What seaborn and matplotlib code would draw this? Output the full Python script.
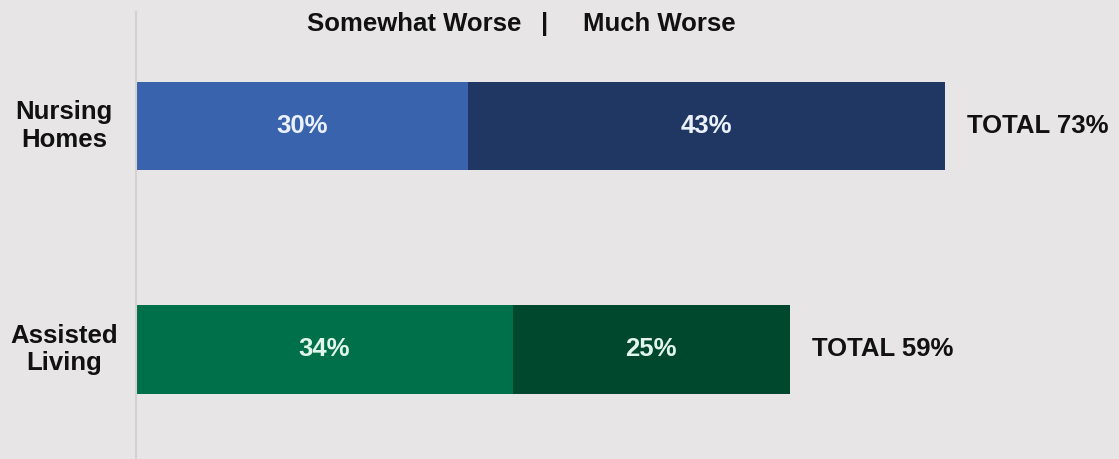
import matplotlib
matplotlib.use("Agg")
import matplotlib.pyplot as plt
import matplotlib.transforms as mtransforms
import seaborn as sns
import pandas as pd

# Share of respondents saying care got worse, by setting
categories = ["Nursing\nHomes", "Assisted\nLiving"]
somewhat_worse = [30, 34]
much_worse = [43, 25]
totals = [s + m for s, m in zip(somewhat_worse, much_worse)]

light_colors = ["#3a63ad", "#00704a"]
dark_colors = ["#213763", "#00482d"]
label_colors = ["#eaf1fb", "#e2f6ec"]

BG = "#e7e5e6"

sns.set_theme(style="white")
plt.rcParams["font.family"] = ["Liberation Sans", "DejaVu Sans"]

W, H = 1119, 459
fig = plt.figure(figsize=(W / 100, H / 100), dpi=100, facecolor=BG)

left_px, top_px = 136, 12
px_per_unit = 11.08
ax = fig.add_axes([left_px / W, 0, 1 - left_px / W, 1 - top_px / H])
ax.set_facecolor(BG)

df = pd.DataFrame({
    "category": categories,
    "somewhat": somewhat_worse,
    "much": much_worse,
    "total": totals,
})

bar_w = 0.396
# Full stacked length in the darker shade, then the first segment on top
sns.barplot(data=df, y="category", x="total", hue="category",
            palette=dark_colors, orient="h", width=bar_w, dodge=False,
            legend=False, linewidth=0, saturation=1, ax=ax)
sns.barplot(data=df, y="category", x="somewhat", hue="category",
            palette=light_colors, orient="h", width=bar_w, dodge=False,
            legend=False, linewidth=0, saturation=1, ax=ax)

axes_w_px = W - left_px
ax.set_xlim(0, axes_w_px / px_per_unit)
ax.set_ylim(1.49, -0.51)

ax.set_xlabel("")
ax.set_ylabel("")
ax.set_xticks([])
ax.set_yticks([])
for side in ["top", "right", "bottom"]:
    ax.spines[side].set_visible(False)
ax.spines["left"].set_color("#d3d1d2")
ax.spines["left"].set_linewidth(1.5)

fs = 18.5
# Segment values
for i in range(len(categories)):
    s, m, t = somewhat_worse[i], much_worse[i], totals[i]
    ax.text(s / 2, i, f"{s}%", ha="center", va="center", fontsize=fs,
            fontweight="bold", color=label_colors[i])
    ax.text(s + m / 2, i, f"{m}%", ha="center", va="center", fontsize=fs,
            fontweight="bold", color=label_colors[i])
    ax.text(t + 22 / px_per_unit, i, f"TOTAL {t}%", ha="left", va="center",
            fontsize=fs, fontweight="bold", color="#111111")

# Category labels to the left of the axis
trans = mtransforms.blended_transform_factory(fig.transFigure, ax.transData)
for i, cat in enumerate(categories):
    ax.text(64 / W, i, cat, transform=trans, ha="center", va="center",
            fontsize=fs, fontweight="bold", color="#111111",
            linespacing=1.2)

# Header naming the two segments
hy = 1 - 24 / H
fig.text(521 / W, hy, "Somewhat Worse", ha="right", va="center",
         fontsize=fs, fontweight="bold", color="#111111")
fig.text(545 / W, hy, "|", ha="center", va="center",
         fontsize=fs, fontweight="bold", color="#111111")
fig.text(583 / W, hy, "Much Worse", ha="left", va="center",
         fontsize=fs, fontweight="bold", color="#111111")

fig.savefig("out.png", dpi=100, facecolor=BG)
